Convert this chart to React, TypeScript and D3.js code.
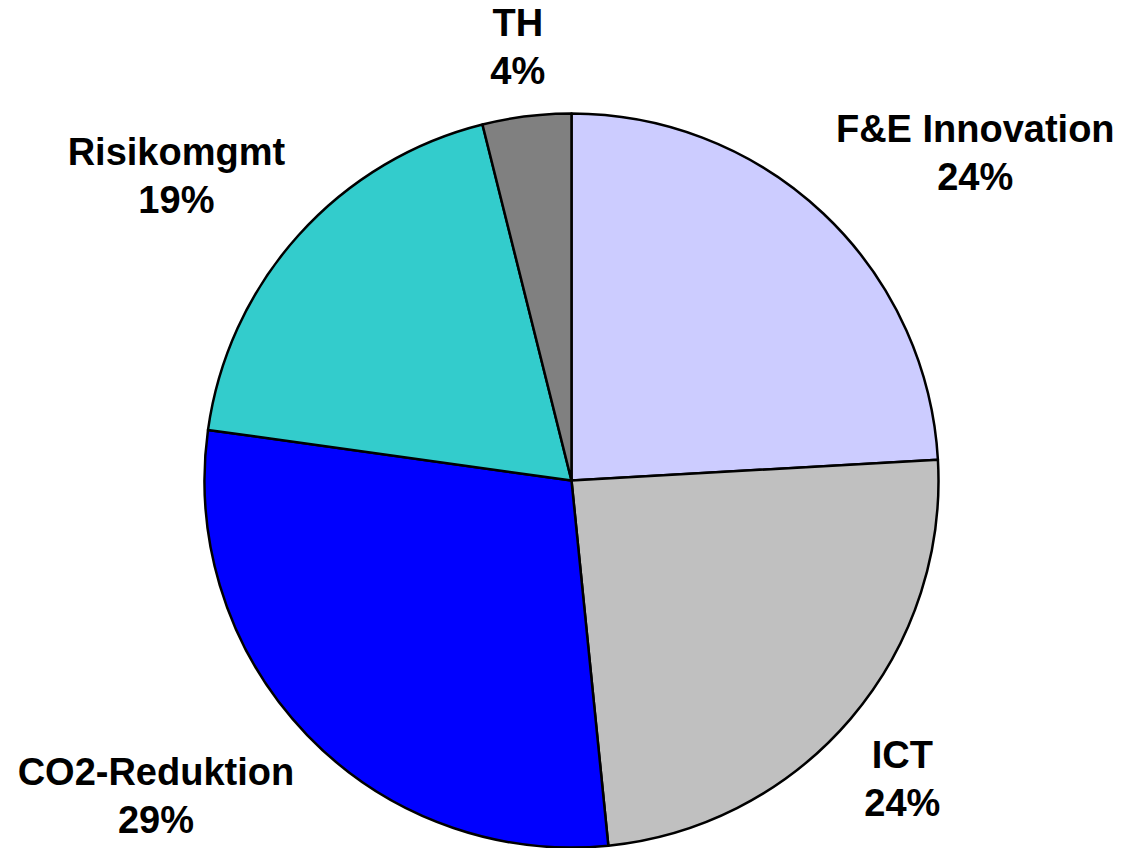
import * as d3 from 'd3';

const categories = ['F&E Innovation', 'ICT', 'CO2-Reduktion', 'Risikomgmt', 'TH'];
const shares = [24.1, 24.3, 28.8, 18.9, 3.9];
const colors = ['#CCCCFF', '#C0C0C0', '#0000FF', '#33CCCC', '#808080'];

const CHART = {
    width: 1124,
    height: 848,
    cx: 571.5,
    cy: 480.5,
    radius: 367,
    labelRadiusX: 385,
    labelRadiusY: 400,
    fontSize: 38,
    lineHeight: 48,
    font: 'bold 38px "Liberation Sans", Arial, sans-serif'
};

let canvas: HTMLCanvasElement | null = null;
const textWidth = (s: string) => {
    if (!canvas) canvas = document.createElement('canvas');
    const ctx = canvas.getContext('2d')!;
    ctx.font = CHART.font;
    return ctx.measureText(s).width;
};

const clamp = (v: number) => Math.max(-1, Math.min(1, v));

export default function App() {
    const rows = categories.map((name, i) => ({ name, value: shares[i], color: colors[i] }));
    const arcs = d3.pie<any>().sort(null).value((d) => d.value)(rows);
    const arc = d3.arc<any>().innerRadius(0).outerRadius(CHART.radius);

    // labels sit outside the slice, pushed out by half their box
    const labels = arcs.map((a) => {
        const mid = (a.startAngle + a.endAngle) / 2;
        const dx = Math.sin(mid);
        const dy = -Math.cos(mid);
        const pct = Math.round(a.data.value) + '%';
        const w = Math.max(textWidth(a.data.name), textWidth(pct));
        const h = CHART.lineHeight + CHART.fontSize * 0.72;
        const x = CHART.labelRadiusX * dx + clamp(dx * 2) * w / 2;
        const y = CHART.labelRadiusY * dy + clamp(dy * 2) * h / 2;
        return { name: a.data.name, pct, x, y, h };
    });

    return (
        <svg width={CHART.width} height={CHART.height}
            style={{ position: 'absolute', left: 0, top: 0, background: '#fff' }}>
            <g transform={`translate(${CHART.cx}, ${CHART.cy})`}>
                {arcs.map((a, i) => (
                    <path key={i} d={arc(a) as string} fill={a.data.color}
                        stroke="#000" strokeWidth={2.5} strokeLinejoin="round" />
                ))}

                {labels.map((l, i) => (
                    <text key={i} x={l.x} y={l.y - l.h / 2 + CHART.fontSize * 0.72}
                        textAnchor="middle" fontFamily='"Liberation Sans", Arial, sans-serif'
                        fontWeight="bold" fontSize={CHART.fontSize} fill="#000">
                        <tspan x={l.x}>{l.name}</tspan>
                        <tspan x={l.x} dy={CHART.lineHeight}>{l.pct}</tspan>
                    </text>
                ))}
            </g>
        </svg>
    );
}
